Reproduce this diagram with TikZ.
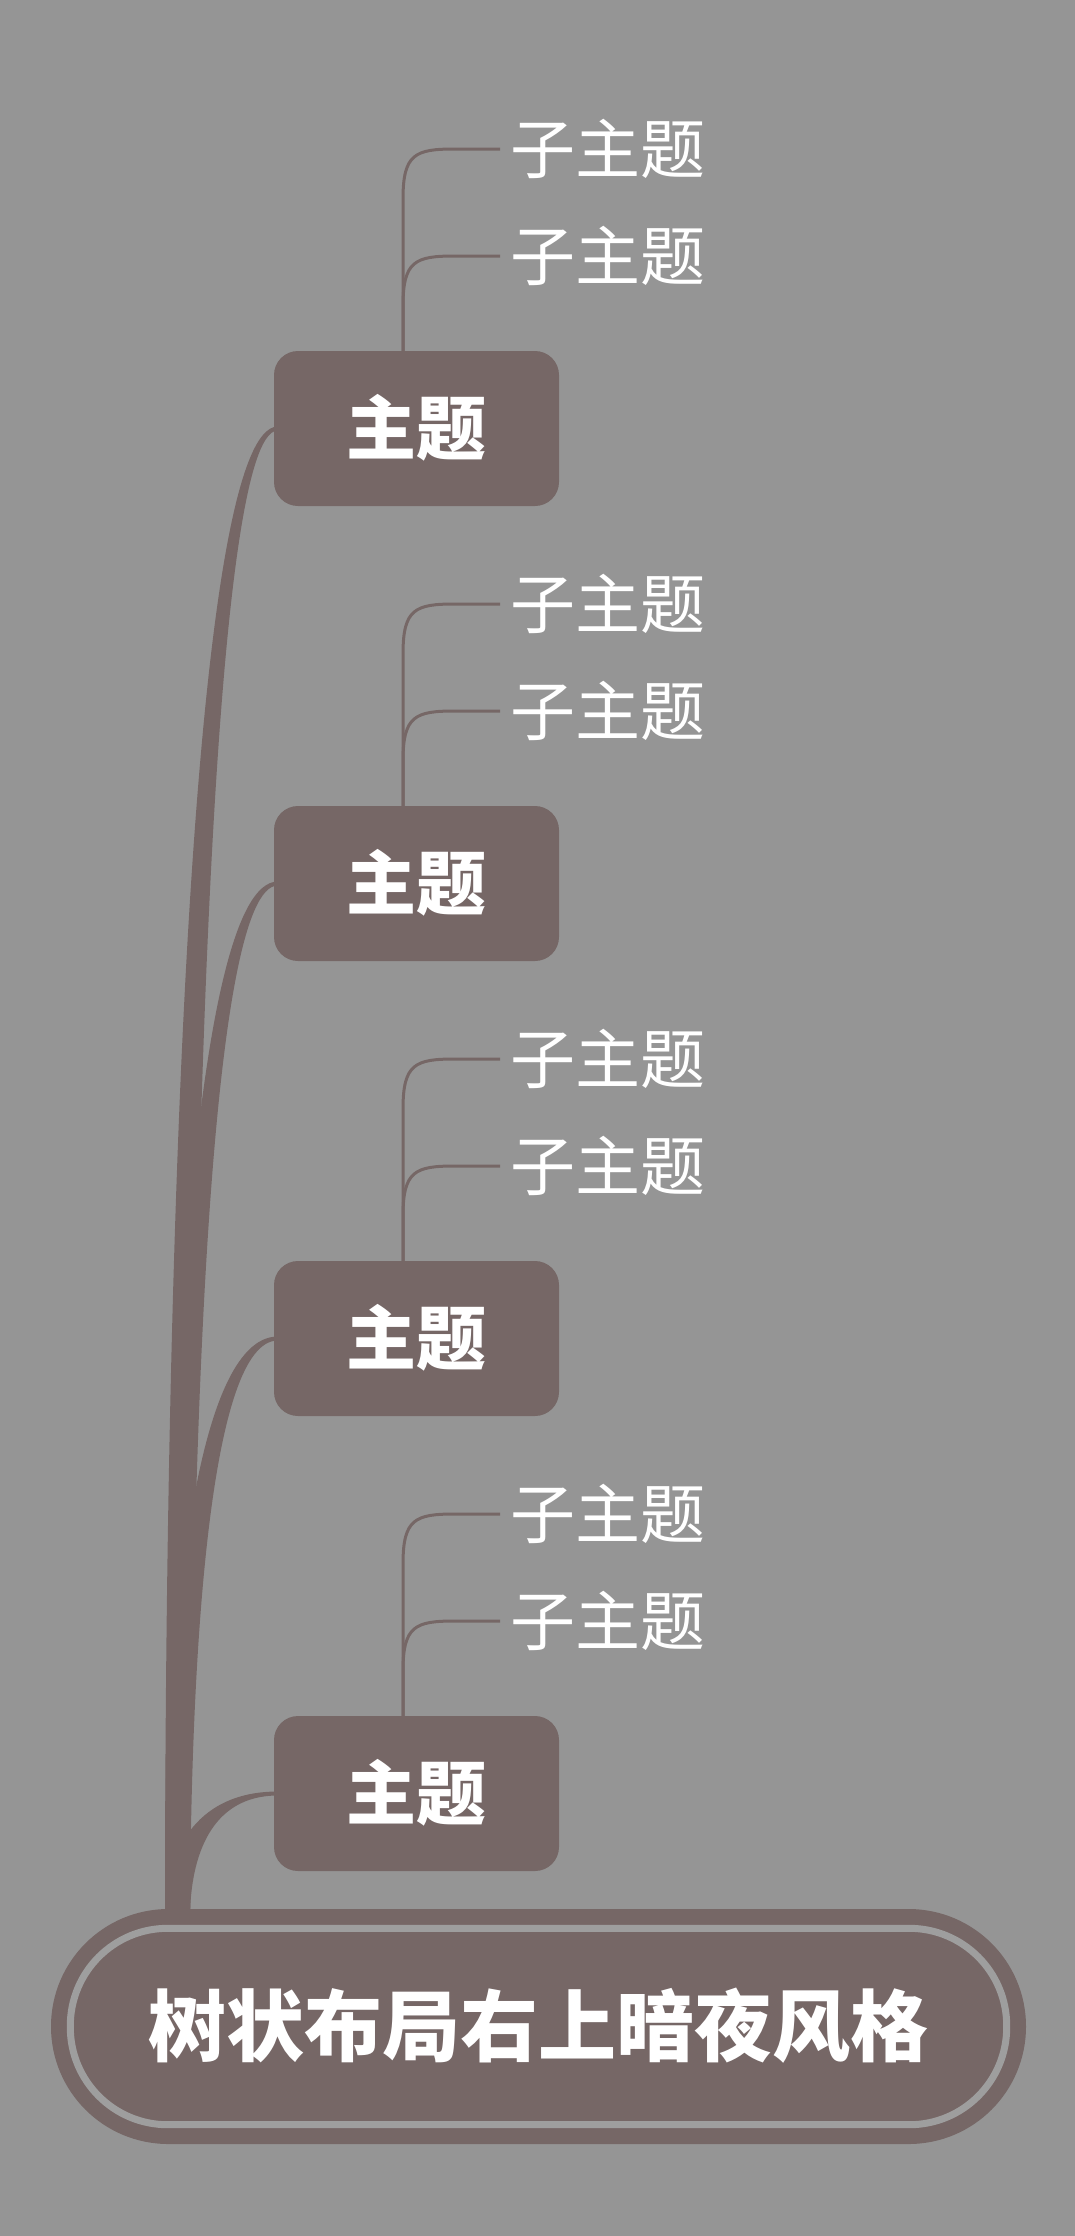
\documentclass[tikz,border=0pt]{standalone}
\usepackage{fontspec}
\newfontfamily\cjk{Noto Sans CJK SC}
\usetikzlibrary{calc,backgrounds}
\definecolor{bgc}{HTML}{959595}
\definecolor{brn}{HTML}{766766}
\definecolor{ringc}{HTML}{9E9E9E}
\tikzset{
  topic/.style={fill=brn, rounded corners=24pt, minimum width=285pt, minimum height=155pt,
    inner sep=0pt, text=white, font=\cjk\bfseries\fontsize{70}{80}\selectfont,
    text height=56pt, text depth=3.5pt},
  rootn/.style={fill=brn, rounded corners=117.4pt, minimum width=975pt, minimum height=235pt,
    inner sep=0pt, text=white, font=\cjk\bfseries\fontsize{78}{90}\selectfont,
    text height=62.4pt, text depth=3.9pt},
  ringl/.style={draw=ringc, line width=7pt, rounded corners=97.4pt},
  sub/.style={anchor=west, inner xsep=10pt, inner ysep=0pt, text=white,
    font=\cjk\fontsize{65}{72}\selectfont, text height=52pt, text depth=3.2pt},
  subl/.style={draw=brn, line width=3pt},
  branchf/.style={fill=brn}
}
\newcommand\drawbranch[2]{%
  \fill[branchf] ($(trunk)+(-12.5,0)$) .. controls (165,#2) and ($(#1.west)+(-82,-2)$) ..
    ($(#1.west)+(4,-2)$) -- ($(#1.west)+(4,2)$) .. controls ($(#1.west)+(-64,2)$) and (191,#2) ..
    ($(trunk)+(12.5,0)$) -- cycle;}
\newcommand\drawsubline[2]{%
  \draw[subl] ($(#1.north)+(-13.5,3)$) -- ($(#2.west)+(-97,50)$) .. controls ($(#2.west)+(-97,5)$) and ($(#2.west)+(-85,0)$) ..
    ($(#2.west)+(-45,0)$) -- (#2.west);}
\begin{document}
\begin{tikzpicture}[x=1pt,y=-1pt]
% topics
\node[topic] (t1) at (416.5,428.5) {主题};
\node[topic] (t2) at (416.5,883.5) {主题};
\node[topic] (t3) at (416.5,1338.5) {主题};
\node[topic] (t4) at (416.5,1793.5) {主题};
% root
\node[rootn] (root) at (538.5,2026.5) {树状布局右上暗夜风格};
\draw[ringl] ([xshift=19.5pt,yshift=-19.5pt]root.north west) rectangle ([xshift=-19.5pt,yshift=19.5pt]root.south east);
\coordinate (trunk) at (177.5,1915);
% subtopics
\node[sub] (s11) at (500,149) {子主题};
\node[sub] (s12) at (500,256) {子主题};
\node[sub] (s21) at (500,604) {子主题};
\node[sub] (s22) at (500,711) {子主题};
\node[sub] (s31) at (500,1059) {子主题};
\node[sub] (s32) at (500,1166) {子主题};
\node[sub] (s41) at (500,1514) {子主题};
\node[sub] (s42) at (500,1621) {子主题};
\drawsubline{t1}{s11}
\drawsubline{t1}{s12}
\drawsubline{t2}{s21}
\drawsubline{t2}{s22}
\drawsubline{t3}{s31}
\drawsubline{t3}{s32}
\drawsubline{t4}{s41}
\drawsubline{t4}{s42}
\begin{scope}[on background layer]
  \fill[bgc] (0,0) rectangle (1075,2236);
  \drawbranch{t1}{1230}
  \drawbranch{t2}{1440}
  \drawbranch{t3}{1650}
  \drawbranch{t4}{1858}
\end{scope}
\end{tikzpicture}
\end{document}
